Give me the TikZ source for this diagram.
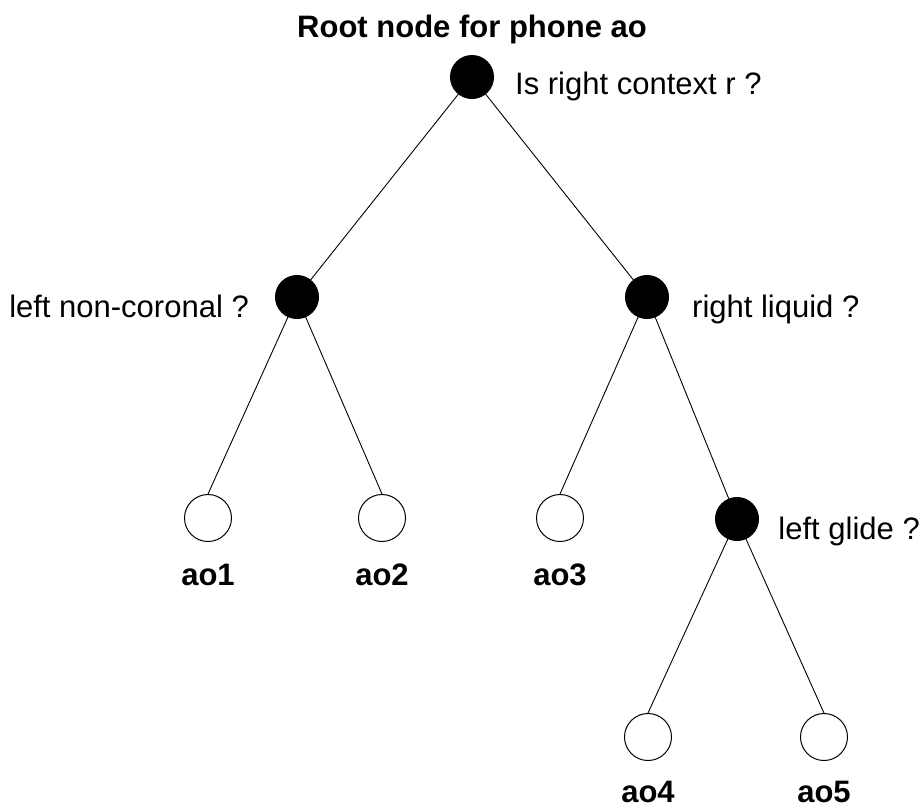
\documentclass[tikz,border=0pt]{standalone}
\usepackage{fontspec}
\setmainfont{Liberation Sans}
\usetikzlibrary{backgrounds}
\begin{document}
\begin{tikzpicture}[x=1pt,y=-1pt,
  inner/.style={circle,fill=black,draw=black,line width=1pt,minimum size=43pt,inner sep=0pt},
  leaf/.style={circle,draw=black,fill=white,line width=1pt,minimum size=47pt,inner sep=0pt},
  edge/.style={line width=0.9pt},
  q/.style={font=\fontsize{31}{37}\selectfont,inner sep=0pt},
  lab/.style={font=\fontsize{31}{37}\selectfont\bfseries,inner sep=0pt,anchor=base}]
\useasboundingbox (0,0) rectangle (924,807);
\node[inner] (root) at (472,77) {};
\node[inner] (L) at (297,297) {};
\node[inner] (R) at (647,297) {};
\node[inner] (G) at (737,519) {};
\node[leaf] (a1) at (208,518) {};
\node[leaf] (a2) at (382,518) {};
\node[leaf] (a3) at (560,518) {};
\node[leaf] (a4) at (648,737) {};
\node[leaf] (a5) at (824,737) {};
\begin{scope}[on background layer]
\draw[edge] (root.center) -- (L.center);
\draw[edge] (root.center) -- (R.center);
\draw[edge] (L.center) -- (a1.north);
\draw[edge] (L.center) -- (a2.north);
\draw[edge] (R.center) -- (a3.north);
\draw[edge] (R.center) -- (G.center);
\draw[edge] (G.center) -- (a4.north);
\draw[edge] (G.center) -- (a5.north);
\end{scope}
\node[lab] (title) at (472,37) {Root node for phone ao};
\node[q,anchor=base west] (t0) at (515,94) {Is right context r ?};
\node[q,anchor=base east] (t1) at (249,317) {left non-coronal ?};
\node[q,anchor=base west] (t2) at (692,317) {right liquid ?};
\node[q,anchor=base east] (t3) at (920,539) {left glide ?};
\node[lab] (l1) at (208,585) {ao1};
\node[lab] (l2) at (382,585) {ao2};
\node[lab] (l3) at (560,585) {ao3};
\node[lab] (l4) at (648,802) {ao4};
\node[lab] (l5) at (824,802) {ao5};
\end{tikzpicture}
\end{document}
